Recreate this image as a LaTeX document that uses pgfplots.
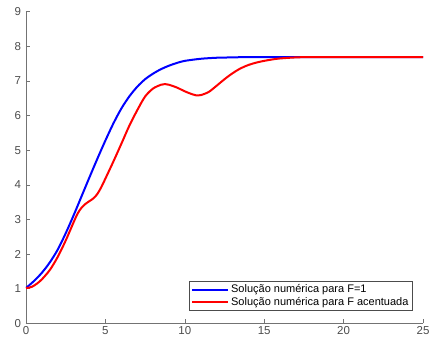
\documentclass[border=0pt]{standalone}
\usepackage{pgfplots}
\pgfplotsset{compat=1.18}
\usepackage{fontspec}
\setmainfont{Liberation Sans}
\definecolor{axgray}{rgb}{0.45,0.45,0.45}
\definecolor{txtgray}{rgb}{0.3,0.3,0.3}
\definecolor{mblue}{rgb}{0,0,1}
\definecolor{mred}{rgb}{1,0,0}
\begin{document}
\begin{tikzpicture}
\useasboundingbox (-26pt,-22.7pt) rectangle (407pt,323.3pt);
\begin{axis}[
  at={(0,0)}, anchor=south west,
  scale only axis,
  width=397pt, height=311.6pt,
  xmin=0, xmax=25, ymin=0, ymax=9,
  xtick={0,5,10,15,20,25},
  ytick={0,1,2,3,4,5,6,7,8,9},
  axis lines=left,
  axis line style={-, draw=axgray, line width=0.8pt},
  tick align=inside,
  major tick length=4pt,
  tick style={draw=axgray, line width=0.6pt},
  minor tick num=0,
  /pgf/number format/assume math mode=true,
  tick label style={font=\fontsize{11.5}{13}\selectfont, text=txtgray},
  yticklabel style={xshift=-1.5pt},
  legend style={at={(0.973,0.04)}, anchor=south east, draw=black!70, line width=0.6pt,
    font=\fontsize{11}{13}\selectfont, inner sep=1.5pt, row sep=-1pt,
    cells={anchor=west}},
  legend image code/.code={\draw[#1] (0pt,0pt) -- (36pt,0pt);},
]
\addplot[mblue, line width=2pt, smooth] coordinates {
(0,1.02) (0.5,1.22) (1,1.46) (1.5,1.76) (2,2.13) (2.5,2.60) (3,3.12) (3.5,3.67)
(4,4.22) (4.5,4.76) (5,5.28) (5.5,5.77) (6,6.20) (6.5,6.55) (7,6.83) (7.5,7.05)
(8,7.21) (8.5,7.34) (9,7.44) (9.5,7.52) (10,7.58) (11,7.64) (12,7.67) (13,7.68)
(14,7.69) (16,7.69) (18,7.69) (20,7.69) (22,7.69) (25,7.69)
};
\addlegendentry{Solução numérica para F=1}
\addplot[mred, line width=2pt, smooth] coordinates {
(0,1.02) (0.2,1.03) (0.4,1.06) (0.7,1.15) (1,1.27) (1.5,1.54) (2,1.92) (2.5,2.39)
(3,2.92) (3.25,3.17) (3.5,3.34) (3.75,3.45) (4,3.53) (4.25,3.61) (4.5,3.74)
(4.75,3.94) (5,4.18) (5.5,4.67) (6,5.18) (6.5,5.70) (7,6.15) (7.5,6.55) (8,6.78)
(8.5,6.89) (8.75,6.91) (9,6.89) (9.5,6.81) (10,6.70) (10.5,6.61) (10.75,6.58)
(11,6.59) (11.5,6.68) (12,6.86) (12.5,7.05) (13,7.22) (13.5,7.36) (14,7.46)
(14.5,7.53) (15,7.58) (15.5,7.62) (16,7.65) (17,7.68) (18,7.69) (20,7.69)
(22,7.69) (25,7.69)
};
\addlegendentry{Solução numérica para F acentuada}
\end{axis}
\end{tikzpicture}
\end{document}
